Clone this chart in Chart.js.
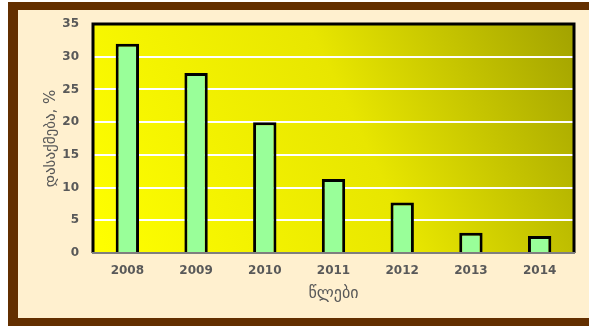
<!DOCTYPE html>
<html>
<head>
<meta charset="utf-8">
<script src="https://cdn.jsdelivr.net/npm/chart.js@4/dist/chart.umd.min.js"></script>
<style>
    html, body { margin: 0; padding: 0; background: #ffffff; overflow: hidden; }
    #wrap { position: absolute; left: 0; top: 0; width: 589px; height: 326px; }
</style>
</head>
<body>
<div id="wrap"><canvas id="employment"></canvas></div>
<script>
const YEARS = ["2008", "2009", "2010", "2011", "2012", "2013", "2014"];
const SHARE = [32, 27.5, 20, 11.3, 7.7, 3.1, 2.6];
const Y_TITLE = "დასაქმება, %";
const X_TITLE = "წლები";

const TICK_COLOR = "#595959";

// brown frame and cream page behind the chart
const pageFrame = {
    id: "pageFrame",
    beforeDraw(chart) {
        const { ctx, width, height } = chart;
        ctx.save();
        ctx.fillStyle = "#ffffff";
        ctx.fillRect(0, 0, width, height);
        ctx.fillStyle = "#632f00";
        ctx.fillRect(8, 2, width - 8, height - 2);
        ctx.fillStyle = "#fff0cf";
        ctx.fillRect(18, 10, width - 18, height - 18);
        ctx.restore();
    }
};

// yellow-to-olive fill behind the bars, plus the black frame
const plotBackground = {
    id: "plotBackground",
    beforeDraw(chart) {
        const { ctx, chartArea: a } = chart;
        const g = ctx.createLinearGradient(a.left, a.bottom, a.right, a.top);
        g.addColorStop(0, "#ffff00");
        g.addColorStop(0.55, "#e8e600");
        g.addColorStop(1, "#a2a200");
        ctx.save();
        ctx.fillStyle = g;
        ctx.fillRect(a.left, a.top, a.right - a.left, a.bottom - a.top);
        ctx.restore();
    },
    beforeDatasetsDraw(chart) {
        const { ctx, chartArea: a } = chart;
        ctx.save();
        ctx.strokeStyle = "#000000";
        ctx.lineWidth = 3;
        ctx.beginPath();
        ctx.moveTo(a.left, a.bottom);
        ctx.lineTo(a.left, a.top);
        ctx.lineTo(a.right, a.top);
        ctx.lineTo(a.right, a.bottom);
        ctx.stroke();
        ctx.strokeStyle = "#7f7f7f";
        ctx.lineWidth = 2;
        ctx.beginPath();
        ctx.moveTo(a.left - 1, a.bottom);
        ctx.lineTo(a.right + 1, a.bottom);
        ctx.stroke();
        ctx.restore();
    }
};

function buildConfig() {
    return {
        type: "bar",
        data: {
            labels: YEARS,
            datasets: [{
                data: SHARE,
                backgroundColor: "#99ff99",
                borderColor: "#000000",
                borderWidth: 3,
                categoryPercentage: 1,
                barPercentage: 0.34
            }]
        },
        options: {
            responsive: true,
            maintainAspectRatio: false,
            animation: false,
            layout: { padding: { left: 38, top: 24, right: 15, bottom: 8 } },
            plugins: {
                legend: { display: false },
                tooltip: { enabled: false }
            },
            scales: {
                x: {
                    grid: { display: false, drawTicks: false },
                    border: { display: false },
                    ticks: {
                        color: TICK_COLOR,
                        font: { family: "DejaVu Sans", size: 12, weight: "bold" },
                        padding: 11
                    },
                    title: {
                        display: true,
                        text: X_TITLE,
                        color: TICK_COLOR,
                        font: { family: "DejaVu Sans", size: 16 },
                        padding: { top: 4, bottom: 15 }
                    },
                    afterFit(scale) { scale.height = 65; }
                },
                y: {
                    min: 0,
                    max: 35,
                    ticks: {
                        stepSize: 5,
                        color: TICK_COLOR,
                        font: { family: "DejaVu Sans", size: 12, weight: "bold" },
                        padding: 14
                    },
                    grid: { color: "#ffffff", lineWidth: 2, drawTicks: false },
                    border: { display: false },
                    title: {
                        display: true,
                        text: Y_TITLE,
                        color: TICK_COLOR,
                        font: { family: "DejaVu Sans", size: 15 },
                        padding: { top: 4, bottom: 0 }
                    },
                    afterFit(scale) { scale.width = 55; }
                }
            }
        },
        plugins: [pageFrame, plotBackground]
    };
}

new Chart(document.getElementById("employment").getContext("2d"), buildConfig());
</script>
</body>
</html>
